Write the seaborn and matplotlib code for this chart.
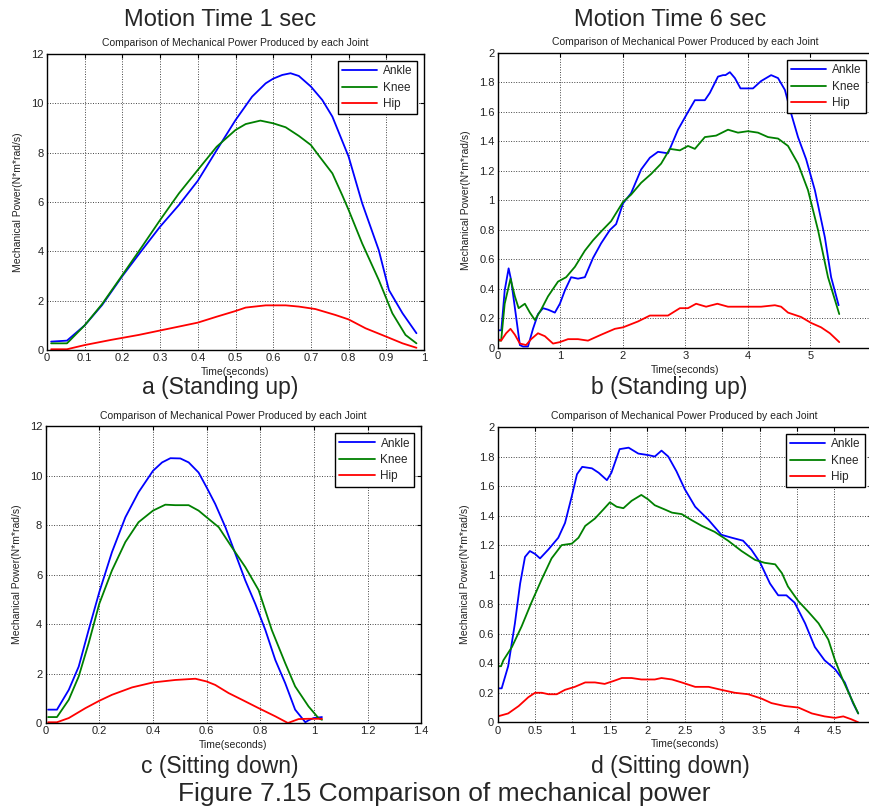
import numpy as np
import pandas as pd
import matplotlib
matplotlib.use("Agg")
import matplotlib.pyplot as plt
from matplotlib.ticker import FuncFormatter, FormatStrFormatter, MultipleLocator
import seaborn as sns

# ---------------- data ----------------
joints = ["Ankle", "Knee", "Hip"]
colors = {"Ankle": "#0000ff", "Knee": "#008000", "Hip": "#ff0000"}

# Panel a: Standing up, 1 sec
a_ankle_t = [0.011, 0.053, 0.1, 0.146, 0.2, 0.252, 0.3, 0.35, 0.4, 0.45, 0.5, 0.544, 0.58, 0.6, 0.624, 0.646,
             0.668, 0.7, 0.73, 0.757, 0.8, 0.836, 0.88, 0.907, 0.943, 0.98]
a_ankle_p = [0.34, 0.38, 1.0, 1.82, 3.0, 4.05, 5.0, 5.88, 6.86, 8.1, 9.32, 10.27, 10.81, 11.0, 11.15, 11.22,
             11.11, 10.68, 10.14, 9.46, 7.84, 5.95, 4.05, 2.43, 1.49, 0.68]
a_knee_t = [0.011, 0.053, 0.1, 0.146, 0.2, 0.252, 0.3, 0.35, 0.4, 0.45, 0.5, 0.527, 0.566, 0.6, 0.633, 0.668,
            0.7, 0.72, 0.757, 0.783, 0.8, 0.836, 0.88, 0.916, 0.951, 0.98]
a_knee_p = [0.27, 0.27, 1.0, 1.86, 3.04, 4.19, 5.27, 6.35, 7.3, 8.24, 8.92, 9.16, 9.3, 9.19, 9.03, 8.68,
            8.31, 7.9, 7.16, 6.28, 5.68, 4.32, 2.84, 1.49, 0.61, 0.27]
a_hip_t = [0.011, 0.053, 0.1, 0.17, 0.243, 0.35, 0.4, 0.45, 0.5, 0.527, 0.58, 0.633, 0.668, 0.712, 0.765,
           0.8, 0.845, 0.9, 0.943, 0.98]
a_hip_p = [0.03, 0.03, 0.2, 0.41, 0.61, 0.95, 1.11, 1.35, 1.58, 1.72, 1.81, 1.81, 1.76, 1.66, 1.42,
           1.24, 0.88, 0.54, 0.27, 0.09]

# Panel b: Standing up, 6 sec
b_ankle_t = [0.0, 0.053, 0.107, 0.17, 0.21, 0.29, 0.35, 0.4, 0.48, 0.56, 0.64, 0.72, 0.8, 0.91, 0.99, 1.07,
             1.17, 1.28, 1.39, 1.52, 1.65, 1.79, 1.89, 2.0, 2.13, 2.29, 2.43, 2.56, 2.72, 2.88, 3.04, 3.15,
             3.31, 3.39, 3.52, 3.6, 3.64, 3.71, 3.79, 3.88, 4.0, 4.08, 4.21, 4.37, 4.48, 4.59, 4.69, 4.8,
             4.93, 5.07, 5.23, 5.33, 5.45]
b_ankle_p = [0.12, 0.12, 0.39, 0.54, 0.46, 0.21, 0.02, 0.01, 0.01, 0.13, 0.23, 0.27, 0.26, 0.24, 0.30, 0.39,
             0.48, 0.47, 0.48, 0.61, 0.71, 0.80, 0.84, 0.98, 1.05, 1.21, 1.29, 1.33, 1.32, 1.48, 1.60, 1.68,
             1.68, 1.73, 1.84, 1.85, 1.85, 1.87, 1.83, 1.76, 1.76, 1.76, 1.81, 1.85, 1.83, 1.75, 1.59, 1.43,
             1.28, 1.07, 0.75, 0.48, 0.29]
b_knee_t = [0.0, 0.05, 0.107, 0.2, 0.27, 0.33, 0.43, 0.51, 0.59, 0.69, 0.8, 0.96, 1.09, 1.23, 1.39, 1.52,
            1.65, 1.81, 2.0, 2.13, 2.29, 2.45, 2.61, 2.75, 2.91, 3.04, 3.15, 3.31, 3.49, 3.68, 3.84, 4.0,
            4.16, 4.32, 4.48, 4.64, 4.8, 4.96, 5.12, 5.28, 5.46]
b_knee_p = [0.05, 0.05, 0.30, 0.47, 0.35, 0.27, 0.30, 0.24, 0.19, 0.26, 0.35, 0.45, 0.48, 0.55, 0.66, 0.73,
            0.79, 0.86, 0.99, 1.04, 1.12, 1.18, 1.25, 1.35, 1.34, 1.37, 1.35, 1.43, 1.44, 1.48, 1.46, 1.47,
            1.46, 1.43, 1.42, 1.37, 1.25, 1.07, 0.80, 0.48, 0.23]
b_hip_t = [0.0, 0.05, 0.13, 0.2, 0.27, 0.35, 0.45, 0.53, 0.64, 0.75, 0.88, 0.99, 1.12, 1.28, 1.44, 1.65,
           1.87, 2.0, 2.24, 2.43, 2.56, 2.72, 2.91, 3.04, 3.17, 3.33, 3.51, 3.68, 3.87, 4.0, 4.21, 4.43,
           4.53, 4.64, 4.85, 5.01, 5.17, 5.31, 5.46]
b_hip_p = [0.06, 0.05, 0.10, 0.13, 0.09, 0.03, 0.02, 0.06, 0.10, 0.08, 0.03, 0.04, 0.06, 0.06, 0.05, 0.09,
           0.13, 0.14, 0.18, 0.22, 0.22, 0.22, 0.27, 0.27, 0.30, 0.28, 0.30, 0.28, 0.28, 0.28, 0.28, 0.29,
           0.28, 0.24, 0.21, 0.17, 0.14, 0.10, 0.04]

# Panel c: Sitting down, 1 sec
c_ankle_t = [0.009, 0.042, 0.086, 0.123, 0.16, 0.2, 0.247, 0.297, 0.346, 0.4, 0.434, 0.465, 0.502, 0.533,
             0.57, 0.6, 0.632, 0.67, 0.707, 0.744, 0.781, 0.819, 0.856, 0.893, 0.93, 0.968, 0.98, 0.999, 1.03]
c_ankle_p = [0.54, 0.54, 1.34, 2.28, 3.76, 5.3, 6.91, 8.32, 9.33, 10.2, 10.54, 10.71, 10.70, 10.54,
             10.13, 9.53, 8.86, 7.92, 6.85, 5.77, 4.83, 3.76, 2.55, 1.61, 0.54, 0.03, 0.11, 0.2, 0.24]
c_knee_t = [0.009, 0.042, 0.086, 0.123, 0.16, 0.2, 0.247, 0.297, 0.346, 0.4, 0.446, 0.483, 0.533, 0.57,
            0.6, 0.645, 0.694, 0.744, 0.794, 0.843, 0.893, 0.93, 0.98, 1.017, 1.03]
c_knee_p = [0.24, 0.24, 0.94, 1.88, 3.22, 4.83, 6.17, 7.32, 8.12, 8.59, 8.83, 8.81, 8.81, 8.59,
            8.32, 7.92, 7.11, 6.31, 5.37, 3.76, 2.42, 1.48, 0.67, 0.2, 0.13]
c_hip_t = [0.009, 0.042, 0.086, 0.148, 0.2, 0.247, 0.322, 0.4, 0.483, 0.558, 0.6, 0.632, 0.682, 0.732,
           0.794, 0.856, 0.903, 0.943, 0.98, 1.03]
c_hip_p = [0.03, 0.03, 0.2, 0.6, 0.9, 1.14, 1.44, 1.64, 1.74, 1.79, 1.68, 1.54, 1.21, 0.94,
           0.6, 0.27, 0.0, 0.16, 0.17, 0.17]

# Panel d: Sitting down, 6 sec
d_ankle_t = [0.0, 0.053, 0.14, 0.23, 0.3, 0.365, 0.43, 0.5, 0.566, 0.677, 0.81, 0.9, 0.99, 1.06, 1.13,
             1.26, 1.35, 1.46, 1.52, 1.63, 1.75, 1.88, 2.01, 2.1, 2.19, 2.28, 2.39, 2.5, 2.64, 2.82, 2.99,
             3.13, 3.28, 3.39, 3.51, 3.64, 3.75, 3.86, 3.97, 4.11, 4.24, 4.37, 4.51, 4.64, 4.75, 4.82]
d_ankle_p = [0.23, 0.23, 0.38, 0.67, 0.94, 1.12, 1.16, 1.14, 1.11, 1.17, 1.25, 1.35, 1.53, 1.68, 1.73,
             1.72, 1.69, 1.64, 1.69, 1.85, 1.86, 1.82, 1.81, 1.80, 1.84, 1.80, 1.70, 1.58, 1.46, 1.37, 1.27,
             1.25, 1.23, 1.17, 1.08, 0.94, 0.86, 0.86, 0.81, 0.67, 0.51, 0.42, 0.36, 0.27, 0.13, 0.06]
d_knee_t = [0.0, 0.045, 0.076, 0.19, 0.32, 0.45, 0.59, 0.72, 0.855, 0.99, 1.08, 1.17, 1.3, 1.41, 1.5,
            1.59, 1.68, 1.79, 1.92, 2.01, 2.1, 2.24, 2.33, 2.46, 2.59, 2.73, 2.9, 3.08, 3.26, 3.44, 3.57,
            3.71, 3.8, 3.88, 4.02, 4.15, 4.29, 4.42, 4.51, 4.62, 4.71, 4.82]
d_knee_p = [0.38, 0.38, 0.42, 0.51, 0.65, 0.81, 0.97, 1.11, 1.2, 1.21, 1.25, 1.33, 1.38, 1.44, 1.49,
            1.46, 1.45, 1.50, 1.54, 1.51, 1.47, 1.44, 1.42, 1.41, 1.37, 1.33, 1.29, 1.23, 1.16, 1.10, 1.08,
            1.07, 1.01, 0.92, 0.82, 0.75, 0.67, 0.56, 0.42, 0.28, 0.18, 0.06]
d_hip_t = [0.0, 0.14, 0.28, 0.41, 0.5, 0.59, 0.68, 0.79, 0.9, 1.03, 1.17, 1.3, 1.43, 1.55, 1.66, 1.79,
           1.92, 2.1, 2.19, 2.33, 2.46, 2.64, 2.82, 2.99, 3.17, 3.35, 3.53, 3.66, 3.84, 4.02, 4.2, 4.37,
           4.51, 4.62, 4.73, 4.82]
d_hip_p = [0.04, 0.06, 0.11, 0.17, 0.2, 0.2, 0.19, 0.19, 0.22, 0.24, 0.27, 0.27, 0.26, 0.28, 0.30, 0.30,
           0.29, 0.29, 0.30, 0.29, 0.27, 0.24, 0.24, 0.22, 0.20, 0.19, 0.16, 0.13, 0.11, 0.10, 0.06, 0.04,
           0.03, 0.04, 0.02, 0.0]

panels = [
    dict(series={"Ankle": (a_ankle_t, a_ankle_p), "Knee": (a_knee_t, a_knee_p), "Hip": (a_hip_t, a_hip_p)},
         xlim=(0, 1), xstep=0.1, ylim=(0, 12), ystep=2, hide_last=False, ylab_x=-0.064,
         rect=[47 / 870, 1 - 350 / 810, 377 / 870, 296 / 810]),
    dict(series={"Ankle": (b_ankle_t, b_ankle_p), "Knee": (b_knee_t, b_knee_p), "Hip": (b_hip_t, b_hip_p)},
         xlim=(0, 6), xstep=1, ylim=(0, 2), ystep=0.2, hide_last=True, ylab_x=-0.072,
         rect=[498 / 870, 1 - 348 / 810, 375 / 870, 295 / 810]),
    dict(series={"Ankle": (c_ankle_t, c_ankle_p), "Knee": (c_knee_t, c_knee_p), "Hip": (c_hip_t, c_hip_p)},
         xlim=(0, 1.4), xstep=0.2, ylim=(0, 12), ystep=2, hide_last=False, ylab_x=-0.063,
         rect=[45.7 / 870, 1 - 723 / 810, 375.5 / 870, 296.7 / 810]),
    dict(series={"Ankle": (d_ankle_t, d_ankle_p), "Knee": (d_knee_t, d_knee_p), "Hip": (d_hip_t, d_hip_p)},
         xlim=(0, 5), xstep=0.5, ylim=(0, 2), ystep=0.2, hide_last=True, ylab_x=-0.074,
         rect=[497.7 / 870, 1 - 722.3 / 810, 374 / 870, 295.3 / 810]),
]

# ---------------- style ----------------
sns.set_style("white")
plt.rcParams["font.family"] = ["Liberation Sans", "DejaVu Sans"]
plt.rcParams["axes.linewidth"] = 1.0

fig = plt.figure(figsize=(8.7, 8.1), dpi=100)


def make_fmt(xmax, hide_last):
    def f(v, pos):
        if hide_last and v >= xmax - 1e-9:
            return ""
        return "%g" % round(v, 6)
    return FuncFormatter(f)


for p in panels:
    ax = fig.add_axes(p["rect"])
    rows = []
    for j in joints:
        t, v = p["series"][j]
        rows.append(pd.DataFrame({"t": t, "p": v, "Joint": j}))
    df = pd.concat(rows, ignore_index=True)
    sns.lineplot(data=df, x="t", y="p", hue="Joint", hue_order=joints, palette=colors,
                 estimator=None, sort=False, linewidth=1.3, ax=ax)
    ax.set_xlim(*p["xlim"])
    ax.set_ylim(*p["ylim"])
    ax.xaxis.set_major_locator(MultipleLocator(p["xstep"]))
    ax.yaxis.set_major_locator(MultipleLocator(p["ystep"]))
    ax.xaxis.set_major_formatter(make_fmt(p["xlim"][1], p["hide_last"]))
    ax.yaxis.set_major_formatter(FormatStrFormatter("%g"))
    ax.tick_params(direction="in", top=True, right=True, length=3, width=0.8,
                   labelsize=8, pad=2.5, colors="black", labelcolor="#222222")
    ax.grid(True, color="#444444", linestyle=(0, (1, 1.6)), linewidth=0.7)
    for s in ax.spines.values():
        s.set_color("black")
        s.set_visible(True)
    ax.set_title("Comparison of Mechanical Power Produced by each Joint", fontsize=7.5, pad=5.5,
                 color="#222222")
    ax.set_xlabel("Time(seconds)", fontsize=7.5, labelpad=2.5, color="#222222")
    ax.set_ylabel("Mechanical Power(N*m*rad/s)", fontsize=7.5, color="#222222")
    ax.yaxis.set_label_coords(p["ylab_x"], 0.5)
    handles, labels = ax.get_legend_handles_labels()
    ax.legend(handles, labels, loc="upper right", fontsize=8.5, frameon=True, fancybox=False,
              edgecolor="black", framealpha=1, handlelength=3.0, labelspacing=0.38,
              borderaxespad=0.6, borderpad=0.35, handletextpad=0.5)
    ax.get_legend().get_frame().set_linewidth(1.0)

# ---------------- figure texts ----------------
fig.text(220 / 870, 1 - 20 / 810, "Motion Time 1 sec", ha="center", va="center", fontsize=17)
fig.text(670 / 870, 1 - 20 / 810, "Motion Time 6 sec", ha="center", va="center", fontsize=17)
fig.text(220 / 870, 1 - 387 / 810, "a (Standing up)", ha="center", va="center", fontsize=16.5)
fig.text(669 / 870, 1 - 387 / 810, "b (Standing up)", ha="center", va="center", fontsize=16.5)
fig.text(220 / 870, 1 - 766 / 810, "c (Sitting down)", ha="center", va="center", fontsize=16.5)
fig.text(670 / 870, 1 - 767 / 810, "d (Sitting down)", ha="center", va="center", fontsize=16.5)
fig.text(444 / 870, 1 - 794 / 810, "Figure 7.15 Comparison of mechanical power", ha="center",
         va="center", fontsize=19)

fig.savefig("out.png", dpi=100)
